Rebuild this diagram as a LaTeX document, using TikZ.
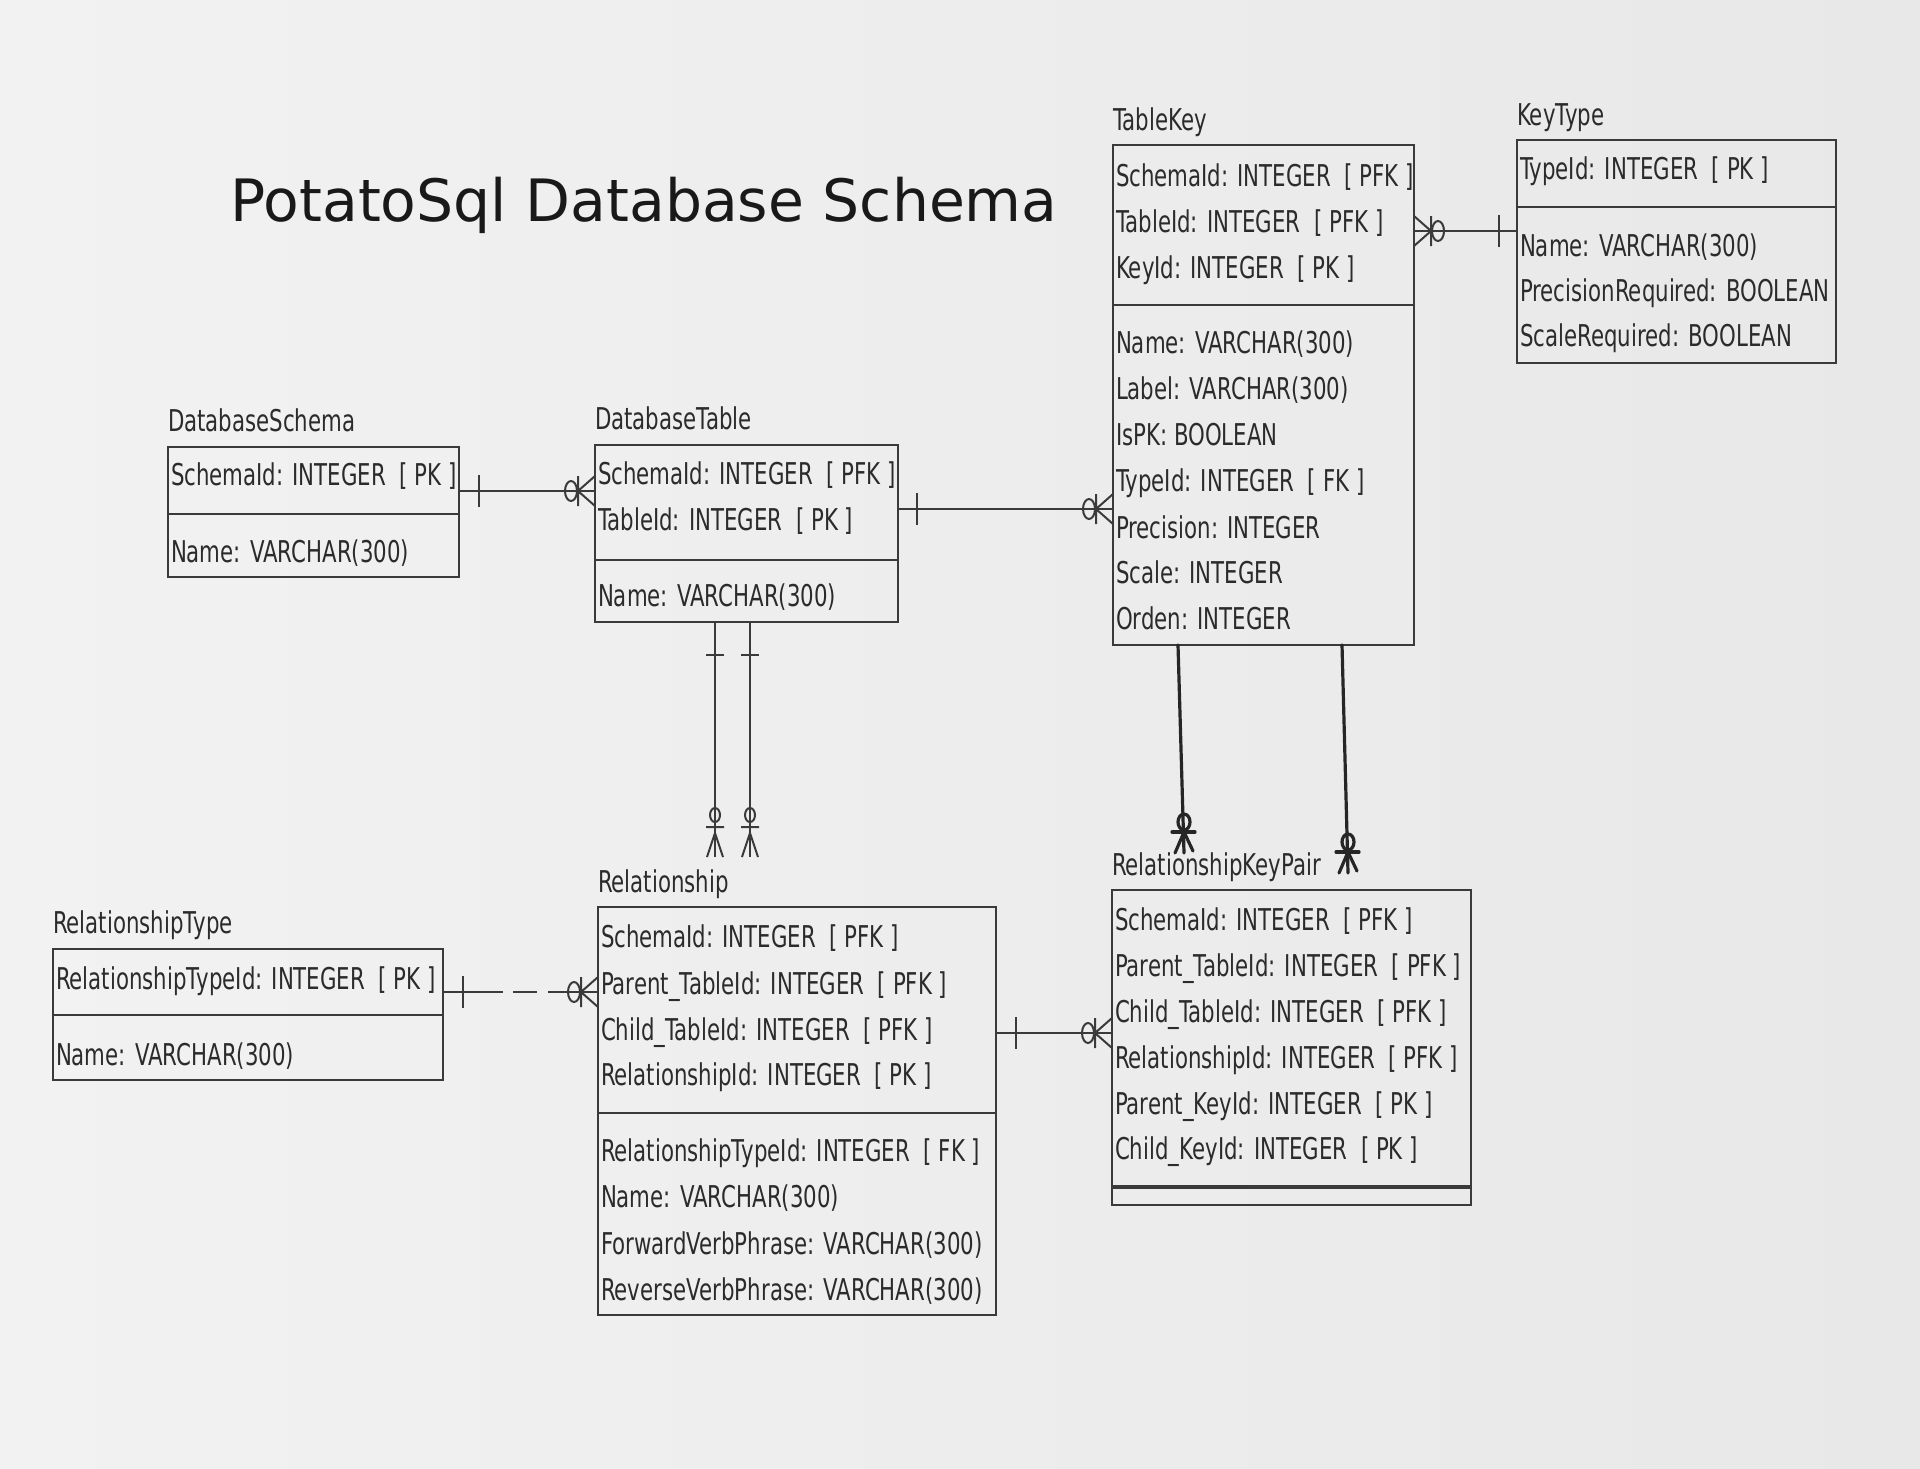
\documentclass[tikz,border=0pt]{standalone}
\usepackage{fontspec}
\setmainfont{DejaVu Sans}
\newfontfamily\rowfont[FakeStretch=0.71]{DejaVu Sans}
\usetikzlibrary{calc}
\definecolor{ink}{HTML}{2B2B2B}
\definecolor{lineink}{HTML}{3A3A3A}
\definecolor{paperL}{HTML}{F2F2F2}
\definecolor{paperR}{HTML}{E8E8E8}
\tikzset{
  tbl/.style={draw=lineink, line width=1.2pt, inner sep=0pt, outer sep=0pt, anchor=north west},
  rowtxt/.style={anchor=base west, inner sep=0pt, outer sep=0pt, text=ink, font=\rowfont\fontsize{15}{18}\selectfont},
  conn/.style={draw=lineink, line width=1pt},
  hand/.style={draw=black!85, line width=1.6pt, line cap=round},
  divider/.style={draw=lineink, line width=1.2pt},
}
\newcommand{\entbox}[5]{\node[tbl, minimum width={(#4-#2)*0.5pt}, minimum height={(#5-#3)*0.5pt}] (#1) at (#2,#3) {};}
\newcommand{\divline}[2]{\draw[divider] (#1.west |- 0,#2) -- (#1.east |- 0,#2);}
\newcommand{\manyR}[1]{\begin{scope}[shift={(#1)}]
  \draw[conn] (-17,0) -- (0,-15) (-17,0) -- (0,15) (-17,-15) -- (-17,15);
  \draw[conn] (-24,0) ellipse [x radius=6, y radius=10];
\end{scope}}
\newcommand{\manyL}[1]{\begin{scope}[shift={(#1)}]
  \draw[conn] (17,0) -- (0,-15) (17,0) -- (0,15) (17,-15) -- (17,15);
  \draw[conn] (24,0) ellipse [x radius=6, y radius=10];
\end{scope}}
\newcommand{\oneH}[1]{\begin{scope}[shift={(#1)}]\draw[conn] (0,-16) -- (0,16);\end{scope}}
\newcommand{\oneV}[1]{\begin{scope}[shift={(#1)}]\draw[conn] (-9,0) -- (9,0);\end{scope}}
\newcommand{\manyD}[1]{\begin{scope}[shift={(#1)}]
  \draw[conn] (0,-24) -- (-8,0) (0,-24) -- (8,0) (-9,-30) -- (9,-30);
  \draw[conn] (0,-42) ellipse [x radius=5, y radius=7];
\end{scope}}
\newcommand{\handD}[1]{\begin{scope}[shift={(#1)}]
  \draw[hand] (0,-31) ellipse [x radius=6, y radius=8];
  \draw[hand] (-12,-21) -- (11,-21);
  \draw[hand] (0,-21) -- (-9,0) (0,-21) -- (9,-2);
\end{scope}}

\begin{document}
\begin{tikzpicture}[x=0.5pt,y=-0.5pt]
\shade[left color=paperL, right color=paperR] (0,0) rectangle (1920,1468);
\useasboundingbox (0,0) rectangle (1920,1468);

\node[anchor=base west, inner sep=0pt, text=black!90, font=\fontsize{29.2}{34}\selectfont] (title) at (230,221) {PotatoSql Database Schema};

% ---------- TableKey
\entbox{tk}{1113}{145}{1414}{645}
\divline{tk}{305}
\node[rowtxt] (tkt) at (1113,130) {TableKey};
\node[rowtxt] (tk1) at (1116,186) {SchemaId: INTEGER~~[ PFK ]};
\node[rowtxt] (tk2) at (1116,232) {TableId: INTEGER~~[ PFK ]};
\node[rowtxt] (tk3) at (1116,278) {KeyId: INTEGER~~[ PK ]};
\node[rowtxt] (tk4) at (1116,353) {Name: VARCHAR(300)};
\node[rowtxt] (tk5) at (1116,399) {Label: VARCHAR(300)};
\node[rowtxt] (tk6) at (1116,445) {IsPK: BOOLEAN};
\node[rowtxt] (tk7) at (1116,491) {TypeId: INTEGER~~[ FK ]};
\node[rowtxt] (tk8) at (1116,538) {Precision: INTEGER};
\node[rowtxt] (tk9) at (1116,583) {Scale: INTEGER};
\node[rowtxt] (tk10) at (1116,629) {Orden: INTEGER};

% ---------- KeyType
\entbox{kt}{1517}{140}{1836}{363}
\divline{kt}{207}
\node[rowtxt] (ktt) at (1517,125) {KeyType};
\node[rowtxt] (kt1) at (1520,179) {TypeId: INTEGER~~[ PK ]};
\node[rowtxt] (kt2) at (1520,256) {Name: VARCHAR(300)};
\node[rowtxt] (kt3) at (1520,301) {PrecisionRequired: BOOLEAN};
\node[rowtxt] (kt4) at (1520,346) {ScaleRequired: BOOLEAN};

% ---------- DatabaseSchema
\entbox{ds}{168}{447}{459}{577}
\divline{ds}{514}
\node[rowtxt] (dst) at (168,431) {DatabaseSchema};
\node[rowtxt] (ds1) at (171,485) {SchemaId: INTEGER~~[ PK ]};
\node[rowtxt] (ds2) at (171,562) {Name: VARCHAR(300)};

% ---------- DatabaseTable
\entbox{dt}{595}{445}{898}{622}
\divline{dt}{560}
\node[rowtxt] (dtt) at (595,429) {DatabaseTable};
\node[rowtxt] (dt1) at (598,484) {SchemaId: INTEGER~~[ PFK ]};
\node[rowtxt] (dt2) at (598,530) {TableId: INTEGER~~[ PK ]};
\node[rowtxt] (dt3) at (598,606) {Name: VARCHAR(300)};

% ---------- Relationship
\entbox{rel}{598}{907}{996}{1315}
\divline{rel}{1113}
\node[rowtxt] (relt) at (598,892) {Relationship};
\node[rowtxt] (rel1) at (601,947) {SchemaId: INTEGER~~[ PFK ]};
\node[rowtxt] (rel2) at (601,994) {Parent\_TableId: INTEGER~~[ PFK ]};
\node[rowtxt] (rel3) at (601,1040) {Child\_TableId: INTEGER~~[ PFK ]};
\node[rowtxt] (rel4) at (601,1085) {RelationshipId: INTEGER~~[ PK ]};
\node[rowtxt] (rel5) at (601,1161) {RelationshipTypeId: INTEGER~~[ FK ]};
\node[rowtxt] (rel6) at (601,1207) {Name: VARCHAR(300)};
\node[rowtxt] (rel7) at (601,1254) {ForwardVerbPhrase: VARCHAR(300)};
\node[rowtxt] (rel8) at (601,1300) {ReverseVerbPhrase: VARCHAR(300)};

% ---------- RelationshipType
\entbox{rt}{53}{949}{443}{1080}
\divline{rt}{1015}
\node[rowtxt] (rtt) at (53,933) {RelationshipType};
\node[rowtxt] (rt1) at (56,989) {RelationshipTypeId: INTEGER~~[ PK ]};
\node[rowtxt] (rt2) at (56,1065) {Name: VARCHAR(300)};

% ---------- RelationshipKeyPair
\entbox{rkp}{1112}{890}{1471}{1205}
\draw[divider, line width=2pt] (rkp.west |- 0,1187) -- (rkp.east |- 0,1187);
\node[rowtxt] (rkpt) at (1112,875) {RelationshipKeyPair};
\node[rowtxt] (rkp1) at (1115,930) {SchemaId: INTEGER~~[ PFK ]};
\node[rowtxt] (rkp2) at (1115,976) {Parent\_TableId: INTEGER~~[ PFK ]};
\node[rowtxt] (rkp3) at (1115,1022) {Child\_TableId: INTEGER~~[ PFK ]};
\node[rowtxt] (rkp4) at (1115,1068) {RelationshipId: INTEGER~~[ PFK ]};
\node[rowtxt] (rkp5) at (1115,1114) {Parent\_KeyId: INTEGER~~[ PK ]};
\node[rowtxt] (rkp6) at (1115,1159) {Child\_KeyId: INTEGER~~[ PK ]};

% ---------- connectors
% DatabaseSchema -> DatabaseTable
\coordinate (c1a) at (ds.east |- 0,491);
\coordinate (c1b) at (dt.west |- 0,491);
\draw[conn] (c1a) -- (c1b);
\oneH{$(c1a)+(20,0)$}
\manyR{c1b}

% DatabaseTable -> TableKey
\coordinate (c2a) at (dt.east |- 0,509);
\coordinate (c2b) at (tk.west |- 0,509);
\draw[conn] (c2a) -- (c2b);
\oneH{$(c2a)+(19,0)$}
\manyR{c2b}

% KeyType -> TableKey
\coordinate (c3a) at (tk.east |- 0,231);
\coordinate (c3b) at (kt.west |- 0,231);
\draw[conn] (c3a) -- (c3b);
\manyL{c3a}
\oneH{$(c3b)+(-18,0)$}

% DatabaseTable -> Relationship (two)
\coordinate (c4a) at (dt.south -| 715,0);
\coordinate (c4b) at ($(rel.north -| 715,0)+(0,-50)$);
\draw[conn] (c4a) -- (c4b);
\oneV{$(c4a)+(0,33)$}
\manyD{c4b}
\coordinate (c5a) at (dt.south -| 750,0);
\coordinate (c5b) at ($(rel.north -| 750,0)+(0,-50)$);
\draw[conn] (c5a) -- (c5b);
\oneV{$(c5a)+(0,33)$}
\manyD{c5b}

% TableKey -> RelationshipKeyPair (hand drawn)
\coordinate (c6a) at (tk.south -| 1178,0);
\coordinate (c6b) at ($(rkp.north -| 1184,0)+(0,-37)$);
\draw[hand] (c6a) -- (c6b);
\handD{c6b}
\coordinate (c7a) at (tk.south -| 1342,0);
\coordinate (c7b) at ($(rkp.north -| 1348,0)+(0,-17)$);
\draw[hand] (c7a) -- (c7b);
\handD{c7b}

% RelationshipType -> Relationship (dashed)
\coordinate (c8a) at (rt.east |- 0,992);
\coordinate (c8b) at (rel.west |- 0,992);
\draw[conn, dash pattern=on 30pt off 5pt on 12pt off 5.5pt on 40pt] (c8a) -- (c8b);
\oneH{$(c8a)+(20,0)$}
\manyR{c8b}

% Relationship -> RelationshipKeyPair
\coordinate (c9a) at (rel.east |- 0,1033);
\coordinate (c9b) at (rkp.west |- 0,1033);
\draw[conn] (c9a) -- (c9b);
\oneH{$(c9a)+(20,0)$}
\manyR{c9b}
\end{tikzpicture}
\end{document}
